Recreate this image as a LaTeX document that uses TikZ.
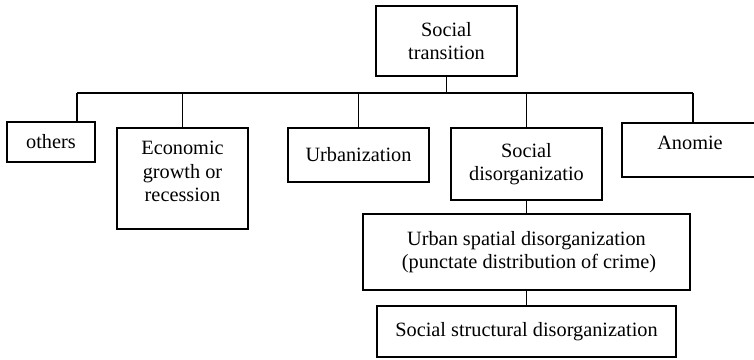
\documentclass[tikz,border=0pt]{standalone}
\usepackage{fontspec}
\setmainfont{Liberation Serif}
\usetikzlibrary{positioning}

\begin{document}
\begin{tikzpicture}[
  x=1pt, y=-1pt,
  block/.style={rectangle, draw=black, line width=1.6pt, fill=white,
                align=center, inner sep=0pt},
  link/.style={draw=black, line width=1.6pt},
  every node/.style={font=\fontsize{20.3}{23.5}\selectfont}
]
\useasboundingbox (0,0) rectangle (754,359);

% ==========================================================
% Blocks
% ==========================================================
\node[block, minimum width=141pt, minimum height=70pt] (Transition) at (446.5,41) {Social\\transition};
\node[block, minimum width=88pt, minimum height=40pt] (Others) at (51,142) {others};
\node[block, minimum width=131pt, minimum height=101pt, text depth=14pt] (Economy) at (182.5,178.5) {Economic\\growth or\\recession};
\node[block, minimum width=141pt, minimum height=54pt] (Urbanization) at (358.5,155) {Urbanization};
\node[block, minimum width=151pt, minimum height=72pt] (Disorg) at (526.5,164) {Social\\disorganizatio};
\node[block, minimum width=136pt, minimum height=54pt, text depth=14pt] (Anomie) at (690,150) {Anomie};
\node[block, minimum width=327pt, minimum height=76pt] (Spatial) at (526.5,252) {Urban spatial disorganization\\\ (punctate distribution of crime)};
\node[block, minimum width=299pt, minimum height=51pt] (Structural) at (526.5,331.5) {Social structural disorganization};

% ==========================================================
% Connectors
% ==========================================================
\coordinate (BusL) at (77,93);
\coordinate (BusR) at (693,93);
\draw[link] (Transition.south) -- (Transition.south |- BusL);
\draw[link] (BusL) -- (BusR);
\draw[link] (BusL) -- (BusL |- Others.north);
\draw[link] (Economy.north |- BusL) -- (Economy.north);
\draw[link] (Urbanization.north |- BusL) -- (Urbanization.north);
\draw[link] (Disorg.north |- BusL) -- (Disorg.north);
\draw[link] (BusR) -- (BusR |- Anomie.north);
\draw[link] (Disorg) -- (Spatial);
\draw[link] (Spatial) -- (Structural);

\end{tikzpicture}
\end{document}
